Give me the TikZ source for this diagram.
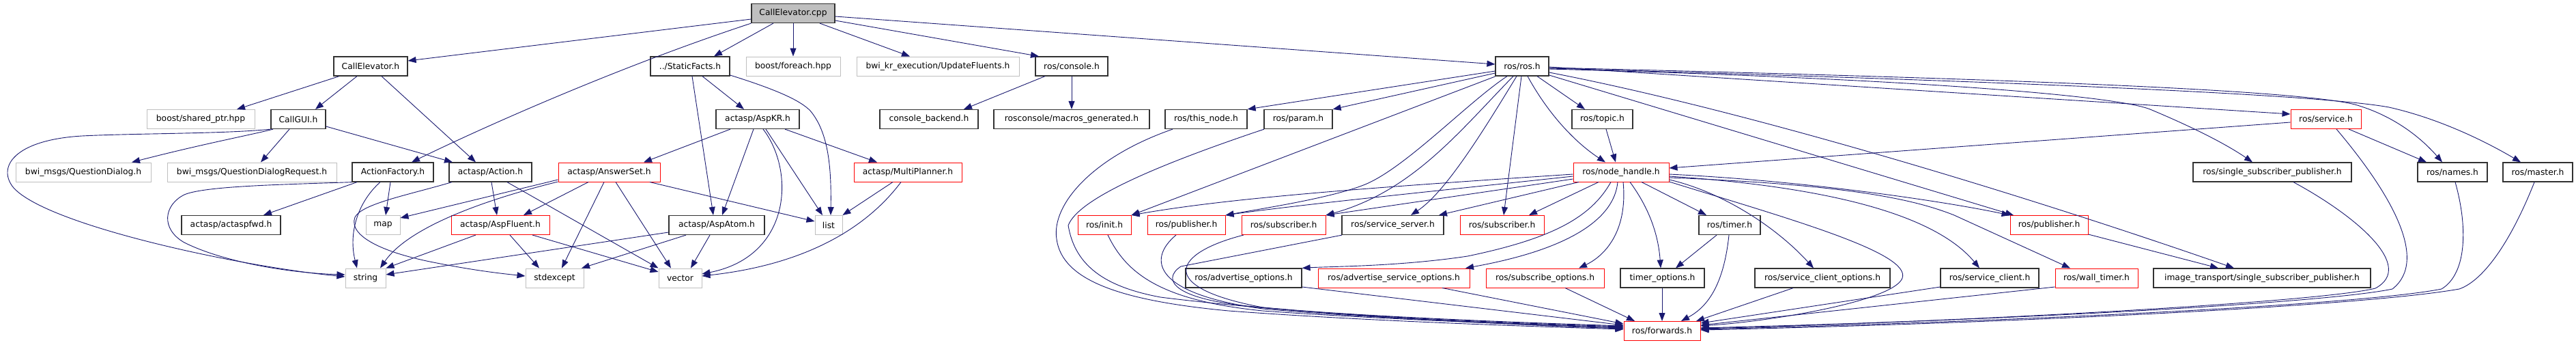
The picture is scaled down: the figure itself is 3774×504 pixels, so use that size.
\documentclass[tikz,border=0pt]{standalone}
\usepackage{fontspec}
\setmainfont{DejaVu Sans}
\usetikzlibrary{arrows.meta}
\definecolor{edgec}{RGB}{25,25,112}
\definecolor{greyb}{RGB}{191,191,191}
\definecolor{boxk}{RGB}{50,50,50}
\tikzset{
  box/.style={rectangle, draw=boxk, line width=1.2pt, fill=white, inner sep=0pt,
    minimum height=28pt, text=black, font=\fontsize{12.3pt}{14pt}\selectfont},
  gbox/.style={box, draw=greyb, line width=1pt},
  rbox/.style={box, draw=red, line width=1pt},
  rootbox/.style={box, fill=greyb},
  e/.style={draw=edgec, line width=0.9pt, -{Triangle[length=12pt,width=9pt]}},
}
\newcommand\nd[6]{\node[#5,minimum width=#3pt-#2pt] (#1) at ({(#2+#3)/2},#4) {#6};}
\begin{document}
\begin{tikzpicture}[x=1pt,y=-1pt]
\useasboundingbox[fill=white] (0,0) rectangle (3774,504);
% row 0
\nd{cpp}{1101}{1223}{19.5}{rootbox}{CallElevator.cpp}
% row 1
\nd{ceh}{489}{597}{97}{box}{CallElevator.h}
\nd{sf}{953}{1069}{97}{box}{../StaticFacts.h}
\nd{bfe}{1093}{1231}{97}{gbox}{boost/foreach.hpp}
\nd{bkr}{1255}{1493}{97}{gbox}{bwi\_kr\_execution/UpdateFluents.h}
\nd{rcon}{1517}{1623}{97}{box}{ros/console.h}
\nd{ros}{2191}{2269}{97}{box}{ros/ros.h}
% row 2
\nd{bsp}{215}{373}{174.5}{gbox}{boost/shared\_ptr.hpp}
\nd{gui}{397}{477}{174.5}{box}{CallGUI.h}
\nd{kr}{1049}{1171}{174.5}{box}{actasp/AspKR.h}
\nd{cb}{1289}{1433}{174.5}{box}{console\_backend.h}
\nd{mg}{1456}{1684}{174.5}{box}{rosconsole/macros\_generated.h}
\nd{tn}{1707}{1827}{174.5}{box}{ros/this\_node.h}
\nd{prm}{1852}{1952}{174.5}{box}{ros/param.h}
\nd{tpc}{2303}{2392}{174.5}{box}{ros/topic.h}
\nd{srv}{3356}{3459}{174.5}{rbox}{ros/service.h}
% row 3
\nd{qd}{23}{221}{252}{gbox}{bwi\_msgs/QuestionDialog.h}
\nd{qdr}{245}{493}{252}{gbox}{bwi\_msgs/QuestionDialogRequest.h}
\nd{af}{516}{635}{252}{box}{ActionFactory.h}
\nd{act}{658}{779}{252}{box}{actasp/Action.h}
\nd{ans}{818}{967}{252}{rbox}{actasp/AnswerSet.h}
\nd{mp}{1251}{1409}{252}{rbox}{actasp/MultiPlanner.h}
\nd{nh}{2305}{2445}{252}{rbox}{ros/node\_handle.h}
\nd{ssp}{3213}{3445}{252}{box}{ros/single\_subscriber\_publisher.h}
\nd{nam}{3542}{3644}{252}{box}{ros/names.h}
\nd{mas}{3667}{3769}{252}{box}{ros/master.h}
% row 4
\nd{fwd}{266}{411}{329.5}{box}{actasp/actaspfwd.h}
\nd{mapn}{536}{586}{329.5}{gbox}{map}
\nd{fl}{661}{805}{329.5}{rbox}{actasp/AspFluent.h}
\nd{atom}{980}{1120}{329.5}{box}{actasp/AspAtom.h}
\nd{lst}{1194}{1234}{329.5}{gbox}{list}
\nd{init}{1579}{1657}{329.5}{rbox}{ros/init.h}
\nd{pubA}{1681}{1795}{329.5}{rbox}{ros/publisher.h}
\nd{subA}{1819}{1942}{329.5}{rbox}{ros/subscriber.h}
\nd{ss}{1966}{2115}{329.5}{box}{ros/service\_server.h}
\nd{subB}{2139}{2262}{329.5}{rbox}{ros/subscriber.h}
\nd{tim}{2489}{2579}{329.5}{box}{ros/timer.h}
\nd{pubB}{2945}{3059}{329.5}{rbox}{ros/publisher.h}
% row 5
\nd{str}{506}{565}{407}{gbox}{string}
\nd{sex}{770}{855}{407}{gbox}{stdexcept}
\nd{vec}{965}{1028}{407}{gbox}{vector}
\nd{ao}{1737}{1907}{407}{box}{ros/advertise\_options.h}
\nd{aso}{1931}{2153}{407}{rbox}{ros/advertise\_service\_options.h}
\nd{so}{2177}{2350}{407}{rbox}{ros/subscribe\_options.h}
\nd{tmo}{2374}{2497}{407}{box}{timer\_options.h}
\nd{sco}{2571}{2769}{407}{box}{ros/service\_client\_options.h}
\nd{sc}{2843}{2987}{407}{box}{ros/service\_client.h}
\nd{wt}{3011}{3132}{407}{rbox}{ros/wall\_timer.h}
\nd{its}{3155}{3473}{407}{box}{image\_transport/single\_subscriber\_publisher.h}
% row 6
\nd{fw}{2379}{2491}{484.5}{rbox}{ros/forwards.h}

% ---- edges from CallElevator.cpp
\draw[e] (cpp.west |- 0,28) -- (ceh.east |- 0,89);
\draw[e] (cpp.south west) .. controls (900,100) and (700,190) .. (af.north -| 603,0);
\draw[e] (cpp.south -| 1133,0) -- (sf.north -| 1046,0);
\draw[e] (cpp.south) -- (bfe.north);
\draw[e] (cpp.south -| 1201,0) -- (bkr.north -| 1333,0);
\draw[e] (cpp.east |- 0,30) -- (rcon.north -| 1522,0);
\draw[e] (cpp.east |- 0,24) -- (ros.west |- 0,94);
% ---- CallElevator.h
\draw[e] (ceh.south -| 497,0) -- (bsp.north -| 347,0);
\draw[e] (ceh.south -| 523,0) -- (gui.north -| 462,0);
\draw[e] (ceh.south -| 559,0) -- (act.north -| 697,0);
% ---- CallGUI.h
\draw[e] (gui.south west) .. controls (330,196) and (200,195) .. (120,199)
  .. controls (20,205) and (-5,245) .. (20,275)
  .. controls (70,330) and (350,390) .. (str.west |- 0,405);
\draw[e] (gui.south -| 400,0) .. controls (370,197) and (300,210) .. (qd.north -| 193,0);
\draw[e] (gui.south -| 424,0) -- (qdr.north -| 382,0);
\draw[e] (gui.east |- 0,185) -- (act.north -| 663,0);
% ---- ActionFactory.h
\draw[e] (af.south west) .. controls (420,270) and (300,272) .. (270,285)
  .. controls (240,300) and (235,335) .. (270,355)
  .. controls (330,385) and (430,400) .. (str.west |- 0,402);
\draw[e] (af.south -| 523,0) -- (fwd.north -| 386,0);
\draw[e] (af.south -| 572,0) -- (mapn.north -| 565,0);
\draw[e] (af.south -| 557,0) .. controls (525,295) and (510,340) .. (str.north -| 523,0);
% ---- actasp/Action.h
\draw[e] (act.south -| 662,0) .. controls (600,285) and (530,298) .. (520,318)
  .. controls (510,345) and (560,370) .. (640,385)
  .. controls (690,395) and (730,400) .. (sex.west |- 0,404);
\draw[e] (act.south -| 720,0) -- (fl.north -| 728,0);
\draw[e] (act.south -| 743,0) -- (vec.north west);
% ---- actasp/AnswerSet.h
\draw[e] (ans.west |- 0,263) -- (mapn.east |- 0,319);
\draw[e] (ans.west |- 0,266) .. controls (720,290) and (600,330) .. (str.north -| 557,0);
\draw[e] (ans.south -| 862,0) -- (fl.north -| 767,0);
\draw[e] (ans.south -| 885,0) -- (sex.north -| 823,0);
\draw[e] (ans.south -| 902,0) -- (vec.north -| 983,0);
\draw[e] (ans.south -| 952,0) -- (lst.west |- 0,324);
% ---- actasp/AspFluent.h
\draw[e] (fl.south -| 697,0) -- (str.north east);
\draw[e] (fl.south -| 747,0) -- (sex.north -| 790,0);
\draw[e] (fl.south -| 780,0) -- (vec.west |- 0,398);
% ---- actasp/AspAtom.h
\draw[e] (atom.west |- 0,340) -- (str.east |- 0,402);
\draw[e] (atom.south -| 1005,0) -- (sex.north -| 852,0);
\draw[e] (atom.south -| 1040,0) -- (vec.north -| 1012,0);
% ---- ../StaticFacts.h
\draw[e] (sf.south -| 1029,0) -- (kr.north -| 1090,0);
\draw[e] (sf.south -| 1014,0) -- (atom.north -| 1045,0);
\draw[e] (sf.east |- 0,110) .. controls (1150,135) and (1175,150) .. (1187,162)
  .. controls (1215,195) and (1218,250) .. (lst.north -| 1217,0);
% ---- actasp/AspKR.h
\draw[e] (kr.south -| 1070,0) -- (ans.north -| 943,0);
\draw[e] (kr.south -| 1104,0) -- (atom.north -| 1058,0);
\draw[e] (kr.south -| 1118,0) .. controls (1165,250) and (1160,375) .. (vec.east |- 0,401);
\draw[e] (kr.south -| 1122,0) -- (lst.north -| 1205,0);
\draw[e] (kr.south -| 1150,0) -- (mp.north -| 1285,0);
% ---- actasp/MultiPlanner.h
\draw[e] (mp.south -| 1308,0) -- (lst.north east);
\draw[e] (mp.south -| 1320,0) .. controls (1280,320) and (1200,385) .. (vec.east |- 0,404);
% ---- ros/console.h
\draw[e] (rcon.south -| 1531,0) -- (cb.north -| 1412,0);
\draw[e] (rcon.south -| 1570,0) -- (mg.north -| 1570,0);
% ---- ros/ros.h
\draw[e] (ros.west |- 0,104) -- (tn.north east);
\draw[e] (ros.west |- 0,107) -- (prm.north east);
\draw[e] (ros.west |- 0,112) -- (init.north east);
\draw[e] (ros.south -| 2208,0) .. controls (2150,150) and (2060,245) .. (2000,270)
  .. controls (1950,290) and (1850,305) .. (pubA.north east);
\draw[e] (ros.south -| 2217,0) .. controls (2140,190) and (2070,280) .. (subA.north east);
\draw[e] (ros.south -| 2222,0) .. controls (2180,180) and (2120,280) .. (ss.north -| 2067,0);
\draw[e] (ros.south -| 2229,0) -- (subB.north -| 2203,0);
\draw[e] (ros.south -| 2238,0) .. controls (2270,170) and (2310,210) .. (nh.north -| 2352,0);
\draw[e] (ros.south -| 2252,0) -- (tpc.north -| 2322,0);
\draw[e] (ros.east |- 0,98) -- (srv.west |- 0,167);
\draw[e] (ros.east |- 0,99) .. controls (2800,112) and (3350,128) .. (3450,153)
  .. controls (3510,170) and (3550,205) .. (nam.north -| 3578,0);
\draw[e] (ros.east |- 0,100) .. controls (2800,115) and (3380,135) .. (3500,157)
  .. controls (3580,175) and (3650,212) .. (mas.north -| 3693,0);
\draw[e] (ros.east |- 0,101) .. controls (2800,115) and (3100,140) .. (3150,160)
  .. controls (3210,185) and (3260,210) .. (ssp.north -| 3300,0);
\draw[e] (ros.east |- 0,106) .. controls (2550,160) and (2950,280) .. (its.north -| 3273,0);
\draw[e] (ros.east |- 0,110) -- (pubB.north -| 2950,0);
% ---- ros/topic.h, ros/service.h
\draw[e] (tpc.south -| 2353,0) -- (nh.north -| 2367,0);
\draw[e] (srv.west |- 0,179) -- (nh.east |- 0,246);
\draw[e] (srv.south -| 3441,0) -- (nam.north -| 3555,0);
\draw[e] (srv.south -| 3423,0) .. controls (3500,280) and (3560,380) .. (3505,423)
  .. controls (3400,445) and (2900,470) .. (fw.east |- 0,480);
\draw[e] (ssp.south -| 3360,0) .. controls (3450,315) and (3540,390) .. (3480,422)
  .. controls (3400,442) and (2900,470) .. (fw.east |- 0,481);
\draw[e] (nam.south -| 3597,0) .. controls (3615,330) and (3615,400) .. (3577,423)
  .. controls (3450,448) and (2900,472) .. (fw.east |- 0,482);
\draw[e] (mas.south -| 3713,0) .. controls (3680,350) and (3640,410) .. (3603,423)
  .. controls (3450,450) and (2900,474) .. (fw.east |- 0,483);
\draw[e] (pubB.east |- 0,343) -- (its.north -| 3250,0);
% ---- ros/node_handle.h
\draw[e] (nh.west |- 0,255) .. controls (2000,275) and (1800,290) .. (init.north east);
\draw[e] (nh.west |- 0,258) .. controls (2100,280) and (1900,300) .. (pubA.north east);
\draw[e] (nh.west |- 0,262) -- (subA.north east);
\draw[e] (nh.south -| 2313,0) -- (ss.north -| 2108,0);
\draw[e] (nh.south -| 2342,0) -- (subB.north -| 2240,0);
\draw[e] (nh.south -| 2360,0) .. controls (2330,320) and (2270,350) .. (2150,375)
  .. controls (2050,390) and (1950,390) .. (ao.north east);
\draw[e] (nh.south -| 2370,0) .. controls (2365,320) and (2300,365) .. (aso.north -| 2147,0);
\draw[e] (nh.south -| 2378,0) .. controls (2385,340) and (2350,375) .. (so.north -| 2313,0);
\draw[e] (nh.south -| 2388,0) .. controls (2420,310) and (2430,350) .. (tmo.north -| 2433,0);
\draw[e] (nh.south -| 2405,0) -- (tim.north -| 2500,0);
\draw[e] (nh.east |- 0,263) .. controls (2520,280) and (2600,330) .. (sco.north -| 2657,0);
\draw[e] (nh.east |- 0,266) .. controls (2620,320) and (2800,370) .. (2787,407)
  .. controls (2775,440) and (2600,470) .. (fw.east |- 0,477);
\draw[e] (nh.east |- 0,255) .. controls (2650,265) and (2850,295) .. (pubB.north west);
\draw[e] (nh.east |- 0,258) .. controls (2700,275) and (2840,320) .. (sc.north -| 2900,0);
\draw[e] (nh.east |- 0,260) .. controls (2700,270) and (2800,290) .. (2863,315) -- (wt.north -| 3033,0);
% ---- into ros/forwards.h from the left
\draw[e] (tn.south -| 1718,0) .. controls (1600,230) and (1540,300) .. (1548,350)
  .. controls (1556,410) and (1640,440) .. (1800,455)
  .. controls (2000,470) and (2250,478) .. (fw.west |- 0,482);
\draw[e] (prm.south -| 1852,0) .. controls (1700,240) and (1580,290) .. (1565,330)
  .. controls (1575,390) and (1620,420) .. (1700,435)
  .. controls (1900,460) and (2200,475) .. (fw.west |- 0,481);
\draw[e] (init.south -| 1623,0) .. controls (1650,400) and (1700,440) .. (1850,455)
  .. controls (2000,466) and (2250,476) .. (fw.west |- 0,480);
\draw[e] (pubA.south -| 1723,0) .. controls (1680,380) and (1690,430) .. (1850,452)
  .. controls (2000,466) and (2250,475) .. (fw.west |- 0,479);
\draw[e] (subA.south -| 1822,0) .. controls (1720,370) and (1690,420) .. (1850,450)
  .. controls (2000,465) and (2250,474) .. (fw.west |- 0,478);
\draw[e] (ss.south -| 1966,0) -- (1730,390) .. controls (1700,410) and (1720,440) .. (1850,450)
  .. controls (2000,464) and (2250,473) .. (fw.west |- 0,477);
\draw[e] (ao.east |- 0,420) -- (fw.west |- 0,476);
\draw[e] (aso.south -| 2113,0) -- (fw.west |- 0,474);
\draw[e] (so.south -| 2293,0) -- (fw.north -| 2395,0);
\draw[e] (tmo.south -| 2435,0) -- (fw.north -| 2435,0);
\draw[e] (tim.south -| 2533,0) .. controls (2525,420) and (2500,450) .. (fw.north -| 2463,0);
\draw[e] (tim.south -| 2515,0) -- (tmo.north -| 2455,0);
\draw[e] (sco.south -| 2627,0) -- (fw.north -| 2485,0);
\draw[e] (sc.west |- 0,420) -- (fw.east |- 0,473);
\draw[e] (wt.west |- 0,420) -- (fw.east |- 0,476);
\end{tikzpicture}
\end{document}
